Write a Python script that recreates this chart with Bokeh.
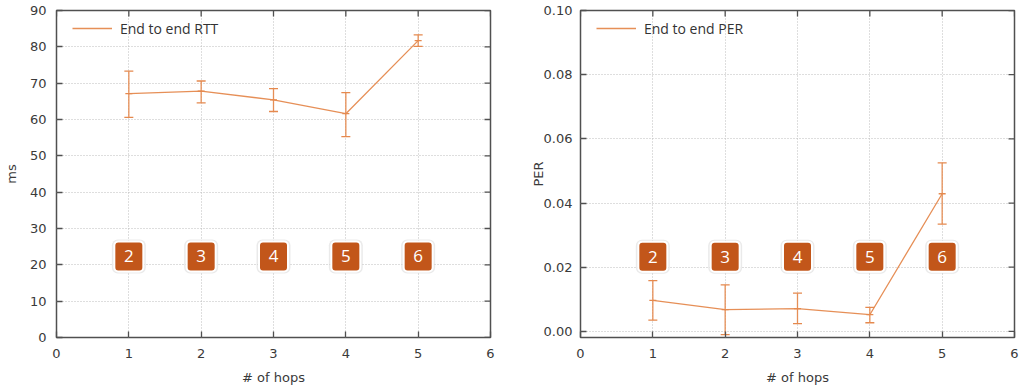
import math
from bokeh.plotting import figure
from bokeh.models import (Range1d, Whisker, TeeHead, ColumnDataSource,
                          Legend, LegendItem, FixedTicker, NumeralTickFormatter)
from bokeh.layouts import row
from bokeh.embed import file_html
from bokeh.resources import INLINE
from bokeh.core.properties import value

# ---- data ----
hops = [1, 2, 3, 4, 5]
badge_labels = ["2", "3", "4", "5", "6"]
rtt_mean = [67.1, 67.8, 65.4, 61.6, 81.7]
rtt_low = [60.6, 64.6, 62.2, 55.3, 80.1]
rtt_high = [73.3, 70.6, 68.5, 67.4, 83.3]
per_mean = [0.0097, 0.0068, 0.0071, 0.0052, 0.0429]
per_low = [0.0035, -0.0010, 0.0024, 0.0027, 0.0334]
per_high = [0.0158, 0.0145, 0.0119, 0.0075, 0.0525]
x_ticks = [0, 1, 2, 3, 4, 5, 6]
rtt_ticks = [0, 10, 20, 30, 40, 50, 60, 70, 80, 90]
per_ticks = [0.0, 0.02, 0.04, 0.06, 0.08, 0.10]

LINE = "#e5894e"
BADGE = "#c2561a"
FRAME = "#505050"
TICKTXT = "#3a3a3a"
TFONT = "DejaVu Sans"
H = 388
BT, BB = 10, 51


def make_fig(means, lows, highs, yr, yticks, ylabel, legend_label, badge_y,
             width, bl, br, ylab_standoff, ytick_standoff, fmt=None, tick_in_legend=True):
    p = figure(width=width, height=H, output_backend="svg", toolbar_location=None,
               x_range=Range1d(0, 6), y_range=Range1d(*yr),
               min_border_left=bl, min_border_right=br, min_border_top=BT,
               min_border_bottom=BB)
    p.background_fill_color = "white"
    p.border_fill_color = "white"
    p.outline_line_color = FRAME
    p.outline_line_width = 1.5

    for ax in (p.xaxis[0], p.yaxis[0]):
        ax.major_tick_in = 6
        ax.major_tick_out = 0
        ax.minor_tick_line_color = None
        ax.axis_line_color = None
        ax.major_tick_line_color = FRAME
        ax.major_tick_line_width = 1.3
        ax.major_label_text_font = TFONT
        ax.major_label_text_font_size = "13px"
        ax.major_label_text_color = TICKTXT
        ax.axis_label_text_font = TFONT
        ax.axis_label_text_font_size = "13px"
        ax.axis_label_text_font_style = "normal"
        ax.axis_label_text_color = TICKTXT
    p.xaxis.ticker = FixedTicker(ticks=x_ticks)
    p.yaxis.ticker = FixedTicker(ticks=yticks)
    p.xaxis.major_label_standoff = 11
    p.yaxis.major_label_standoff = ytick_standoff
    p.xaxis.axis_label = "# of hops"
    p.xaxis.axis_label_standoff = 9
    p.yaxis.axis_label = ylabel
    p.yaxis.axis_label_standoff = ylab_standoff
    if fmt:
        p.yaxis.formatter = NumeralTickFormatter(format=fmt)

    # inward ticks on the top and right edges of the frame
    p.ray(x=x_ticks, y=[yr[1]] * len(x_ticks), length=6, length_units="screen",
          angle=-math.pi / 2, line_color=FRAME, line_width=1.3)
    p.ray(x=[6] * len(yticks), y=yticks, length=6, length_units="screen",
          angle=math.pi, line_color=FRAME, line_width=1.3)

    for g in (p.xgrid[0], p.ygrid[0]):
        g.grid_line_color = "#bdbdbd"
        g.grid_line_dash = "1 2"
        g.grid_line_width = 1
    p.xgrid.ticker = FixedTicker(ticks=x_ticks)
    p.ygrid.ticker = FixedTicker(ticks=yticks)

    src = ColumnDataSource(dict(x=hops, m=means, lo=lows, hi=highs))
    w = Whisker(source=src, base="x", upper="hi", lower="lo",
                line_color=LINE, line_width=1.3, line_alpha=0.95,
                upper_head=TeeHead(size=9, line_color=LINE, line_width=1.3),
                lower_head=TeeHead(size=9, line_color=LINE, line_width=1.3))
    p.add_layout(w)
    ln = p.line("x", "m", source=src, line_color=LINE, line_width=1.3, line_alpha=0.95)
    p.scatter("x", "m", source=src, marker="dash", size=7, line_color=LINE, line_width=1.3)

    # badges
    bsrc = ColumnDataSource(dict(x=hops, y=[badge_y] * len(hops), t=badge_labels))
    p.rect("x", "y", source=bsrc, width=34, height=34, width_units="screen",
           height_units="screen", fill_color="#d0d0d0", fill_alpha=0.45,
           line_color=None, border_radius=6)
    p.rect("x", "y", source=bsrc, width=29, height=30, width_units="screen",
           height_units="screen", fill_color=BADGE, line_color="white",
           line_width=2, border_radius=4)
    p.text("x", "y", text="t", source=bsrc, text_color="white",
           text_font=value("Open Sans"), text_font_size="17px",
           text_align="center", text_baseline="middle")

    renderers = [ln]
    if tick_in_legend:
        tk = p.scatter(x=[], y=[], marker="dash", angle=math.pi / 2, size=7,
                       line_color=LINE, line_width=1.3)
        renderers.append(tk)
    frame_h = H - BT - BB
    leg = Legend(items=[LegendItem(label=legend_label, renderers=renderers)],
                 location=(16, frame_h - 28), margin=0, padding=4,
                 border_line_color=None, background_fill_alpha=0,
                 glyph_width=40, label_standoff=8,
                 label_text_font="Open Sans", label_text_font_size="14px",
                 label_text_color="#333333")
    p.add_layout(leg)
    return p


p1 = make_fig(rtt_mean, rtt_low, rtt_high, (0, 90), rtt_ticks, "ms", "End to end RTT",
              22.3, 512, 56, 22, 8, 10)
p2 = make_fig(per_mean, per_low, per_high, (-0.0019, 0.1), per_ticks, "PER",
              "End to end PER", 0.0233, 512, 68, 10, -5, 8, fmt="0.00", tick_in_legend=False)

layout = row(p1, p2)
open("out.html", "w").write(file_html(layout, INLINE))
